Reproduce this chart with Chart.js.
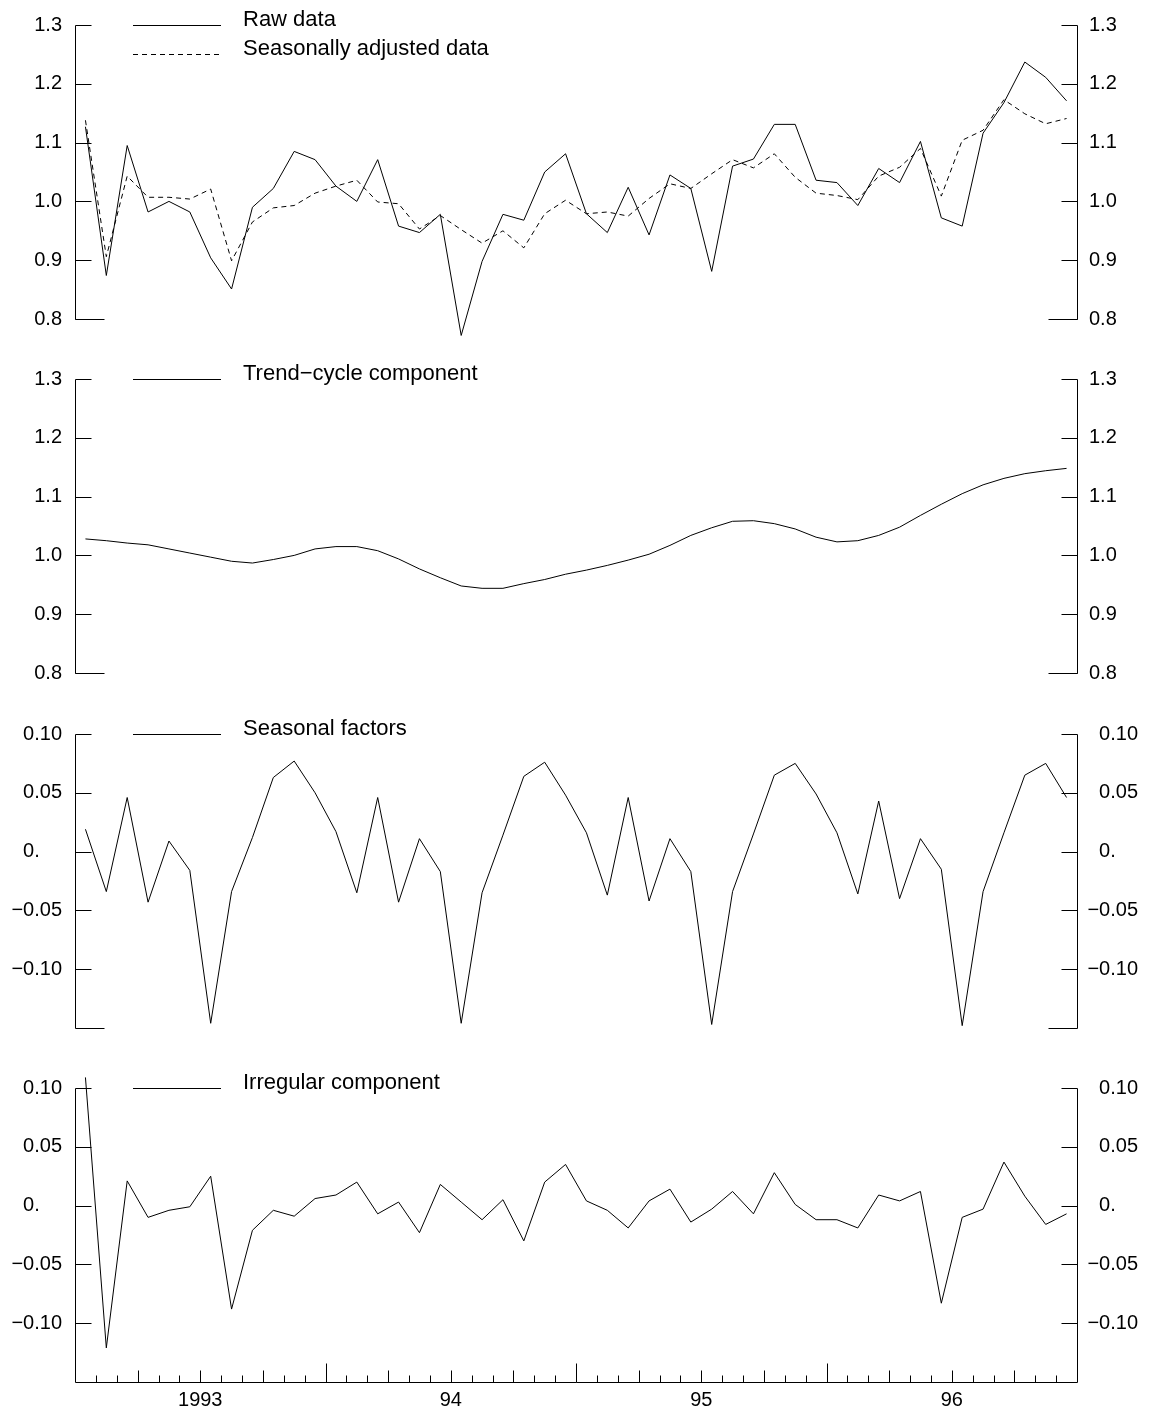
<!DOCTYPE html>
<html lang="en">
<head>
    <meta charset="UTF-8">
    <title>Seasonal decomposition</title>

    <script src="https://cdn.jsdelivr.net/npm/chart.js"></script>

    <style>
        body {
            margin: 0;
            background: #fff;
        }
        #wrap {
            position: relative;
            width: 1154px;
            height: 1414px;
        }
        canvas {
            position: absolute;
            left: 0;
        }
    </style>
</head>
<body>
<div id="wrap">
    <canvas id="rawChart" width="1154" height="354" style="top:0px"></canvas>
    <canvas id="trendChart" width="1154" height="354" style="top:354px"></canvas>
    <canvas id="seasonalChart" width="1154" height="354" style="top:709px"></canvas>
    <canvas id="irregularChart" width="1154" height="351" style="top:1063px"></canvas>
</div>

<script>
    // Months Jan 1993 .. Dec 1996
    const years = ['1993', '1994', '1995', '1996'];
    const monthNames = ['Jan', 'Feb', 'Mar', 'Apr', 'May', 'Jun', 'Jul', 'Aug', 'Sep', 'Oct', 'Nov', 'Dec'];
    const months = years.flatMap(y => monthNames.map(m => m + ' ' + y));

    // x axis labels sit in the middle of each year
    const yearTickValues = [5.5, 17.5, 29.5, 41.5];
    const yearTickLabels = ['1993', '94', '95', '96'];

    // y tick labels
    const levelTicks = [0.8, 0.9, 1.0, 1.1, 1.2, 1.3];
    const levelTickLabels = ['0.8', '0.9', '1.0', '1.1', '1.2', '1.3'];
    const componentTicks = [-0.10, -0.05, 0, 0.05, 0.10];
    const componentTickLabels = ['\u22120.10', '\u22120.05', '0.    ', '0.05', '0.10'];

    const legendRaw = ['Raw data', 'Seasonally adjusted data'];
    const legendTrend = ['Trend\u2212cycle component'];
    const legendSeasonal = ['Seasonal factors'];
    const legendIrregular = ['Irregular component'];

    const rawData = [
        1.127, 0.874, 1.095, 0.982, 1.000, 0.982, 0.904, 0.851, 0.990, 1.022, 1.085, 1.071,
        1.026, 1.000, 1.071, 0.958, 0.947, 0.978, 0.772, 0.898, 0.978, 0.968, 1.050, 1.081,
        0.979, 0.947, 1.024, 0.943, 1.045, 1.022, 0.881, 1.060, 1.072, 1.131, 1.131, 1.036,
        1.032, 0.993, 1.056, 1.032, 1.102, 0.972, 0.958, 1.116, 1.168, 1.237, 1.211, 1.171
    ];
    const adjustedData = [
        1.138, 0.906, 1.043, 1.007, 1.007, 1.004, 1.021, 0.899, 0.965, 0.989, 0.993, 1.014,
        1.026, 1.036, 0.999, 0.996, 0.953, 0.976, 0.952, 0.929, 0.950, 0.921, 0.979, 1.002,
        0.979, 0.982, 0.975, 1.005, 1.030, 1.022, 1.047, 1.071, 1.057, 1.081, 1.041, 1.014,
        1.010, 1.003, 1.043, 1.058, 1.090, 1.009, 1.104, 1.121, 1.173, 1.149, 1.132, 1.141
    ];
    const trendCycle = [
        1.028, 1.025, 1.021, 1.018, 1.011, 1.004, 0.997, 0.990, 0.987, 0.993, 1.000, 1.011,
        1.015, 1.015, 1.008, 0.994, 0.977, 0.962, 0.948, 0.944, 0.944, 0.952, 0.959, 0.968,
        0.975, 0.983, 0.992, 1.002, 1.017, 1.034, 1.047, 1.058, 1.059, 1.054, 1.045, 1.031,
        1.023, 1.025, 1.034, 1.048, 1.068, 1.087, 1.105, 1.120, 1.131, 1.139, 1.144, 1.148
    ];
    const seasonalFactors = [
        0.019, -0.034, 0.046, -0.043, 0.009, -0.016, -0.146, -0.034, 0.012, 0.063, 0.077, 0.050,
        0.017, -0.035, 0.046, -0.043, 0.011, -0.017, -0.146, -0.035, 0.014, 0.064, 0.076, 0.048,
        0.016, -0.037, 0.046, -0.042, 0.011, -0.017, -0.147, -0.034, 0.015, 0.065, 0.075, 0.049,
        0.016, -0.036, 0.043, -0.040, 0.011, -0.015, -0.148, -0.034, 0.016, 0.065, 0.075, 0.046
    ];
    const irregular = [
        0.109, -0.121, 0.021, -0.010, -0.004, -0.001, 0.025, -0.088, -0.021, -0.004, -0.009, 0.006,
        0.009, 0.020, -0.007, 0.003, -0.023, 0.018, 0.003, -0.012, 0.005, -0.030, 0.020, 0.035,
        0.004, -0.004, -0.019, 0.004, 0.014, -0.014, -0.003, 0.012, -0.007, 0.028, 0.001, -0.012,
        -0.012, -0.019, 0.009, 0.004, 0.012, -0.083, -0.010, -0.003, 0.037, 0.008, -0.016, -0.007
    ];

    const fontFamily = '"Liberation Sans", Arial, Helvetica, sans-serif';
    Chart.defaults.font.family = fontFamily;
    Chart.defaults.color = '#000';

    const dashPattern = [5, 4];
    const crisp = v => Math.round(v) + 0.5;

    // axes with inward ticks, drawn from the chart's own scales
    const axisFrame = {
        id: 'axisFrame',
        afterDraw(chart, args, opts) {
            const { ctx, chartArea: a, scales } = chart;
            const yScale = scales.y;
            const left = crisp(a.left), right = crisp(a.right), bottom = crisp(a.bottom);
            ctx.save();
            ctx.strokeStyle = '#000';
            ctx.lineWidth = 1;
            ctx.beginPath();
            ctx.moveTo(left, crisp(a.top));
            ctx.lineTo(left, bottom);
            ctx.moveTo(right, crisp(a.top));
            ctx.lineTo(right, bottom);
            yScale.ticks.forEach(t => {
                const py = crisp(yScale.getPixelForValue(t.value));
                ctx.moveTo(left, py);
                ctx.lineTo(left + 16, py);
                ctx.moveTo(right, py);
                ctx.lineTo(right - 16, py);
            });
            if (opts.timeAxis) {
                const xScale = scales.x;
                ctx.moveTo(left, bottom);
                ctx.lineTo(right, bottom);
                for (let k = 0; k < months.length - 1; k++) {
                    const px = crisp(xScale.getPixelForValue(k + 0.5));
                    let len = 7;
                    if ((k + 1) % 12 === 0) len = 19;
                    else if ((k + 1) % 3 === 0) len = 12;
                    ctx.moveTo(px, bottom);
                    ctx.lineTo(px, bottom - len);
                }
            } else {
                ctx.moveTo(left, bottom);
                ctx.lineTo(left + 29, bottom);
                ctx.moveTo(right, bottom);
                ctx.lineTo(right - 29, bottom);
            }
            ctx.stroke();
            ctx.restore();
        }
    };

    // legend line + label written at the top of each panel
    const panelLegend = {
        id: 'panelLegend',
        afterDraw(chart, args, opts) {
            const { ctx, chartArea: a } = chart;
            ctx.save();
            ctx.font = '22px ' + fontFamily;
            ctx.fillStyle = '#000';
            ctx.strokeStyle = '#000';
            ctx.lineWidth = 1;
            ctx.textBaseline = 'alphabetic';
            opts.labels.forEach((label, i) => {
                const y = crisp(a.top + i * 28.7);
                ctx.setLineDash(i === 1 ? dashPattern : []);
                ctx.beginPath();
                ctx.moveTo(a.left + 58, y);
                ctx.lineTo(a.left + 146, y);
                ctx.stroke();
                ctx.fillText(label, a.left + 168, y);
            });
            ctx.restore();
        }
    };

    function yAxes(min, max, tickValues, tickLabels, rightAlign) {
        const common = {
            min: min,
            max: max,
            afterBuildTicks: axis => { axis.ticks = tickValues.map(v => ({ value: v })); },
            grid: { display: false, drawTicks: false, tickLength: 0 },
            border: { display: false }
        };
        return {
            y: Object.assign({}, common, {
                position: 'left',
                afterFit: axis => { axis.width = 75; },
                ticks: {
                    callback: (v, i) => tickLabels[i],
                    padding: 13,
                    crossAlign: 'near',
                    font: { size: 20 }
                }
            }),
            y2: Object.assign({}, common, {
                position: 'right',
                afterFit: axis => { axis.width = 61; },
                ticks: {
                    callback: (v, i) => tickLabels[i],
                    padding: 12,
                    crossAlign: rightAlign ? 'far' : 'near',
                    font: { size: 20 }
                }
            })
        };
    }

    function lineSet(values, dashed) {
        return {
            data: values,
            yAxisID: 'y',
            borderColor: '#000',
            borderWidth: 1,
            borderDash: dashed ? dashPattern : [],
            pointRadius: 0,
            tension: 0,
            fill: false,
            clip: false
        };
    }

    function makePanel(canvasId, datasets, scalesY, legendLabels, timeAxis) {
        const xAxis = {
            type: 'category',
            offset: true,
            display: timeAxis,
            grid: { display: false, drawTicks: false, tickLength: 0 },
            border: { display: false }
        };
        if (timeAxis) {
            xAxis.afterBuildTicks = axis => { axis.ticks = yearTickValues.map(v => ({ value: v })); };
            xAxis.afterFit = axis => { axis.height = 32; };
            xAxis.ticks = {
                callback: (v, i) => yearTickLabels[i],
                autoSkip: false,
                maxRotation: 0,
                padding: 6,
                font: { size: 20 }
            };
        }
        const ctx = document.getElementById(canvasId).getContext('2d');
        return new Chart(ctx, {
            type: 'line',
            data: { labels: months, datasets: datasets },
            options: {
                responsive: false,
                maintainAspectRatio: false,
                animation: false,
                layout: { padding: { top: 24, bottom: timeAxis ? 0 : 35, left: 0, right: 16 } },
                scales: Object.assign({ x: xAxis }, scalesY),
                plugins: {
                    legend: { display: false },
                    tooltip: { enabled: false },
                    axisFrame: { timeAxis: timeAxis },
                    panelLegend: { labels: legendLabels }
                }
            },
            plugins: [axisFrame, panelLegend]
        });
    }

    makePanel('rawChart',
        [lineSet(rawData, false), lineSet(adjustedData, true)],
        yAxes(0.8, 1.3, levelTicks, levelTickLabels, false), legendRaw, false);

    makePanel('trendChart',
        [lineSet(trendCycle, false)],
        yAxes(0.8, 1.3, levelTicks, levelTickLabels, false), legendTrend, false);

    makePanel('seasonalChart',
        [lineSet(seasonalFactors, false)],
        yAxes(-0.15, 0.10, componentTicks, componentTickLabels, true), legendSeasonal, false);

    makePanel('irregularChart',
        [lineSet(irregular, false)],
        yAxes(-0.15, 0.10, componentTicks, componentTickLabels, true), legendIrregular, true);
</script>
</body>
</html>
